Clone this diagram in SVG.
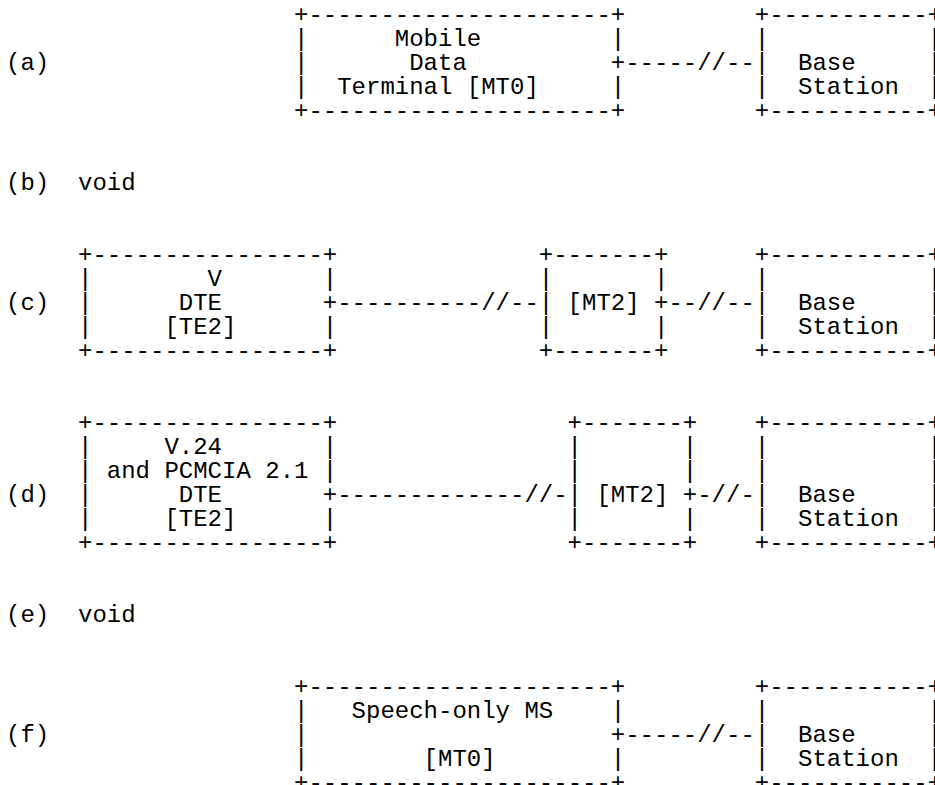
<svg xmlns="http://www.w3.org/2000/svg" width="935" height="785" viewBox="0 0 935 785">
<style>
text{font-family:"Liberation Mono","Courier New",monospace;font-size:24px;fill:#000;white-space:pre}
</style>
<rect x="0" y="0" width="935" height="785" fill="#fff"/>
<g id="labels">
<text x="6" y="70">(a)</text>
<text x="6" y="190">(b)</text><text x="78" y="190">void</text>
<text x="6" y="310">(c)</text>
<text x="6" y="502">(d)</text>
<text x="6" y="622">(e)</text><text x="78" y="622">void</text>
<text x="6" y="742">(f)</text>
</g>
<g id="mt0-a">
<text x="294" y="22">+---------------------+</text>
<text x="294" y="46">|</text><text x="394.8" y="46">Mobile</text><text x="610.8" y="46">|</text>
<text x="294" y="70">|</text><text x="409.2" y="70">Data</text><text x="610.8" y="70">+</text>
<text x="294" y="94">|</text><text x="337.2" y="94">Terminal [MT0]</text><text x="610.8" y="94">|</text>
<text x="294" y="118">+---------------------+</text>
</g>
<g id="bs-a">
<text x="754.8" y="22">+-----------+</text>
<text x="754.8" y="46">|</text><text x="927.6" y="46">|</text>
<text x="754.8" y="70">|</text><text x="798" y="70">Base</text><text x="927.6" y="70">|</text>
<text x="754.8" y="94">|</text><text x="798" y="94">Station</text><text x="927.6" y="94">|</text>
<text x="754.8" y="118">+-----------+</text>
</g>
<g id="te2-c">
<text x="78" y="262">+----------------+</text>
<text x="78" y="286">|</text><text x="207.6" y="286">V</text><text x="322.8" y="286">|</text>
<text x="78" y="310">|</text><text x="178.8" y="310">DTE</text><text x="322.8" y="310">+</text>
<text x="78" y="334">|</text><text x="164.4" y="334">[TE2]</text><text x="322.8" y="334">|</text>
<text x="78" y="358">+----------------+</text>
</g>
<g id="mt2-c">
<text x="538.8" y="262">+-------+</text>
<text x="538.8" y="286">|</text><text x="654" y="286">|</text>
<text x="538.8" y="310">|</text><text x="567.6" y="310">[MT2]</text><text x="654" y="310">+</text>
<text x="538.8" y="334">|</text><text x="654" y="334">|</text>
<text x="538.8" y="358">+-------+</text>
</g>
<g id="bs-c">
<text x="754.8" y="262">+-----------+</text>
<text x="754.8" y="286">|</text><text x="927.6" y="286">|</text>
<text x="754.8" y="310">|</text><text x="798" y="310">Base</text><text x="927.6" y="310">|</text>
<text x="754.8" y="334">|</text><text x="798" y="334">Station</text><text x="927.6" y="334">|</text>
<text x="754.8" y="358">+-----------+</text>
</g>
<g id="te2-d">
<text x="78" y="430">+----------------+</text>
<text x="78" y="454">|</text><text x="164.4" y="454">V.24</text><text x="322.8" y="454">|</text>
<text x="78" y="478">|</text><text x="106.8" y="478">and PCMCIA 2.1</text><text x="322.8" y="478">|</text>
<text x="78" y="502">|</text><text x="178.8" y="502">DTE</text><text x="322.8" y="502">+</text>
<text x="78" y="526">|</text><text x="164.4" y="526">[TE2]</text><text x="322.8" y="526">|</text>
<text x="78" y="550">+----------------+</text>
</g>
<g id="mt2-d">
<text x="567.6" y="430">+-------+</text>
<text x="567.6" y="454">|</text><text x="682.8" y="454">|</text>
<text x="567.6" y="478">|</text><text x="682.8" y="478">|</text>
<text x="567.6" y="502">|</text><text x="596.4" y="502">[MT2]</text><text x="682.8" y="502">+</text>
<text x="567.6" y="526">|</text><text x="682.8" y="526">|</text>
<text x="567.6" y="550">+-------+</text>
</g>
<g id="bs-d">
<text x="754.8" y="430">+-----------+</text>
<text x="754.8" y="454">|</text><text x="927.6" y="454">|</text>
<text x="754.8" y="478">|</text><text x="927.6" y="478">|</text>
<text x="754.8" y="502">|</text><text x="798" y="502">Base</text><text x="927.6" y="502">|</text>
<text x="754.8" y="526">|</text><text x="798" y="526">Station</text><text x="927.6" y="526">|</text>
<text x="754.8" y="550">+-----------+</text>
</g>
<g id="ms-f">
<text x="294" y="694">+---------------------+</text>
<text x="294" y="718">|</text><text x="351.6" y="718">Speech-only MS</text><text x="610.8" y="718">|</text>
<text x="294" y="742">|</text><text x="610.8" y="742">+</text>
<text x="294" y="766">|</text><text x="423.6" y="766">[MT0]</text><text x="610.8" y="766">|</text>
<text x="294" y="790">+---------------------+</text>
</g>
<g id="bs-f">
<text x="754.8" y="694">+-----------+</text>
<text x="754.8" y="718">|</text><text x="927.6" y="718">|</text>
<text x="754.8" y="742">|</text><text x="798" y="742">Base</text><text x="927.6" y="742">|</text>
<text x="754.8" y="766">|</text><text x="798" y="766">Station</text><text x="927.6" y="766">|</text>
<text x="754.8" y="790">+-----------+</text>
</g>
<g id="connectors">
<text x="625.2" y="70">-----//--</text>
<text x="337.2" y="310">----------//--</text>
<text x="668.4" y="310">--//--</text>
<text x="337.2" y="502">-------------//-</text>
<text x="697.2" y="502">-//-</text>
<text x="625.2" y="742">-----//--</text>
</g>
</svg>
